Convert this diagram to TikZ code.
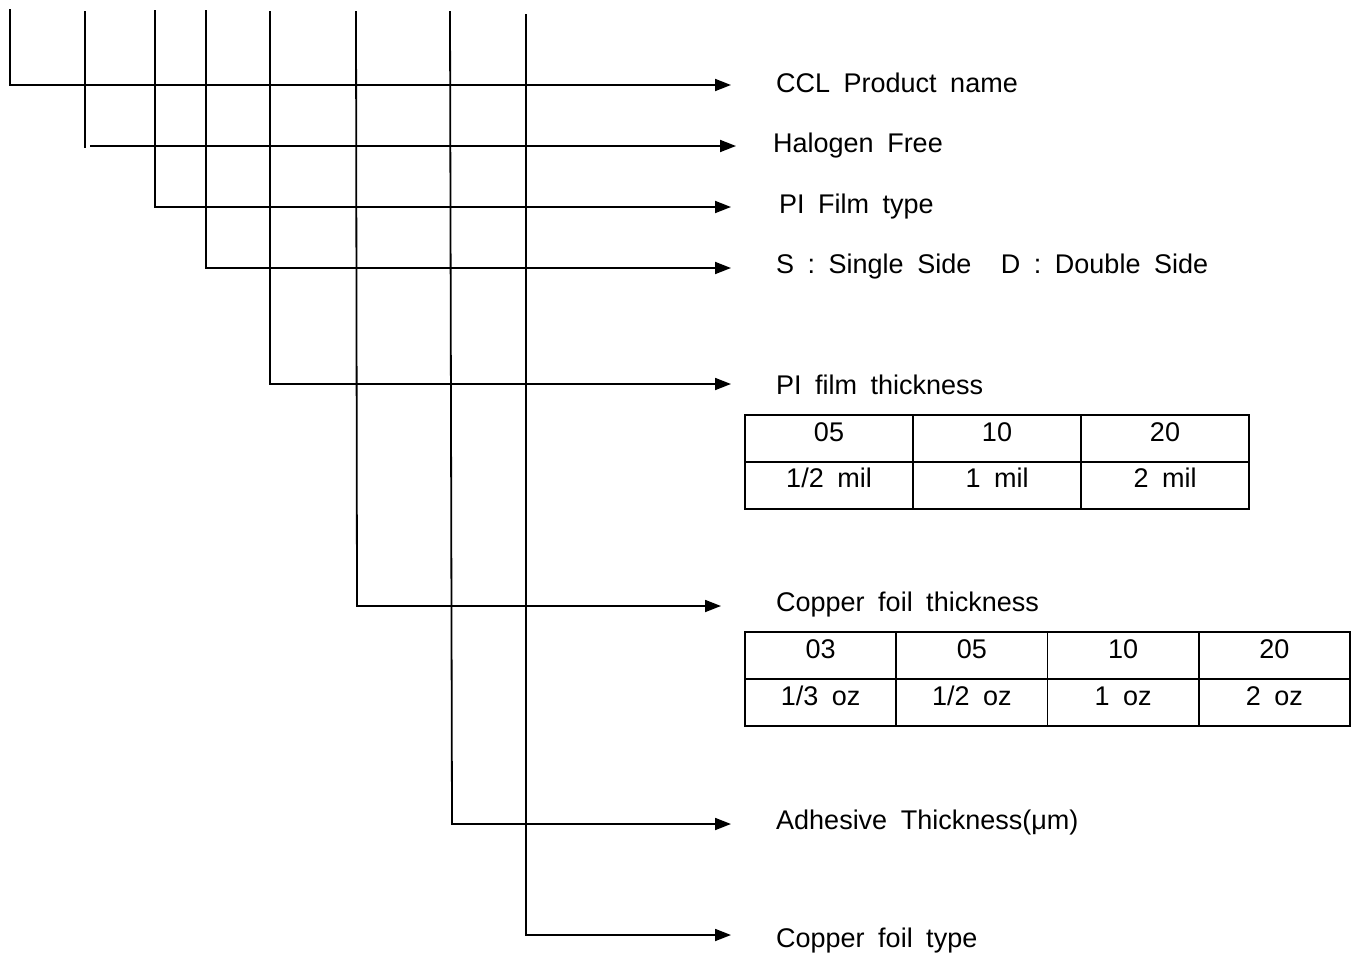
\documentclass[tikz,border=0pt]{standalone}
\usepackage{fontspec}
\setmainfont{Liberation Sans}
\usetikzlibrary{arrows.meta}
\newcommand\lblfont{\fontsize{27}{30}\selectfont\spaceskip=0.5em\relax}
\begin{document}
\begin{tikzpicture}[x=1pt,y=-1pt,
  conn/.style={line width=1.8pt,line cap=rect},
  arr/.style={line width=1.8pt,-{Triangle[length=16pt,width=12pt]}},
  lbl/.style={anchor=base west,inner sep=0pt,font=\lblfont},
  cell/.style={draw,line width=1.8pt,inner sep=0pt,font=\lblfont,text height=18pt,text depth=12pt},
  cellA/.style={cell,minimum width=168pt,minimum height=47pt},
  cellB/.style={cell,minimum width=151.25pt,minimum height=47pt}]
\useasboundingbox (0,0) rectangle (1358,953);
% tops of the vertical lines
\coordinate (t1) at (10,10);
\coordinate (t2) at (85,12);
\coordinate (t3) at (155,11);
\coordinate (t4) at (206,11);
\coordinate (t5) at (270,12);
\coordinate (t6) at (356,12);
\coordinate (t7) at (450,12);
\coordinate (t8) at (526,15);
% corners
\coordinate (c1) at (10,85);
\coordinate (c2) at (85,147);
\coordinate (h2) at (90,146);
\coordinate (c3) at (155,207);
\coordinate (c4) at (206,268);
\coordinate (c5) at (270,384);
\coordinate (c6) at (357,606);
\coordinate (c7) at (452,824);
\coordinate (c8) at (526,935);
% arrow ends
\coordinate (e1) at (731,85);
\coordinate (e2) at (736,146);
\coordinate (e3) at (731,207);
\coordinate (e4) at (731,268);
\coordinate (e5) at (731,384);
\coordinate (e6) at (721,606);
\coordinate (e7) at (731,824);
\coordinate (e8) at (731,935);
% labels
\node[lbl] (l1) at (776,92) {CCL Product name};
\node[lbl] (l2) at (773,152) {Halogen Free};
\node[lbl] (l3) at (779,213) {PI Film type};
\node[lbl] (l4) at (776,273) {S : Single Side\hspace{1.1em}D : Double Side};
\node[lbl] (l5) at (776,394) {PI film thickness};
\node[lbl] (l6) at (776,611) {Copper foil thickness};
\node[lbl] (l7) at (776,829) {Adhesive Thickness(μm)};
\node[lbl] (l8) at (776,947) {Copper foil type};
% connectors
\draw[conn] (t1) -- (c1);
\draw[arr] (c1) -- (e1);
\draw[conn] (t2) -- (c2);
\draw[arr] (h2) -- (e2);
\draw[conn] (t3) -- (c3);
\draw[arr] (c3) -- (e3);
\draw[conn] (t4) -- (c4);
\draw[arr] (c4) -- (e4);
\draw[conn] (t5) -- (c5);
\draw[arr] (c5) -- (e5);
\draw[conn] (t6) -- (c6);
\draw[arr] (c6) -- (e6);
\draw[conn] (t7) -- (c7);
\draw[arr] (c7) -- (e7);
\draw[conn] (t8) -- (c8);
\draw[arr] (c8) -- (e8);
% table 1
\node[cellA] (a11) at (829,438.5) {05};
\node[cellA] (a12) at (997,438.5) {10};
\node[cellA] (a13) at (1165,438.5) {20};
\node[cellA,text depth=14pt] (a21) at (829,485.5) {1/2 mil};
\node[cellA,text depth=14pt] (a22) at (997,485.5) {1 mil};
\node[cellA,text depth=14pt] (a23) at (1165,485.5) {2 mil};
% table 2
\node[cellB] (b11) at (820.6,655.5) {03};
\node[cellB] (b12) at (971.9,655.5) {05};
\node[cellB] (b13) at (1123.1,655.5) {10};
\node[cellB] (b14) at (1274.4,655.5) {20};
\node[cellB] (b21) at (820.6,702.5) {1/3 oz};
\node[cellB] (b22) at (971.9,702.5) {1/2 oz};
\node[cellB] (b23) at (1123.1,702.5) {1 oz};
\node[cellB] (b24) at (1274.4,702.5) {2 oz};
\end{tikzpicture}
\end{document}
